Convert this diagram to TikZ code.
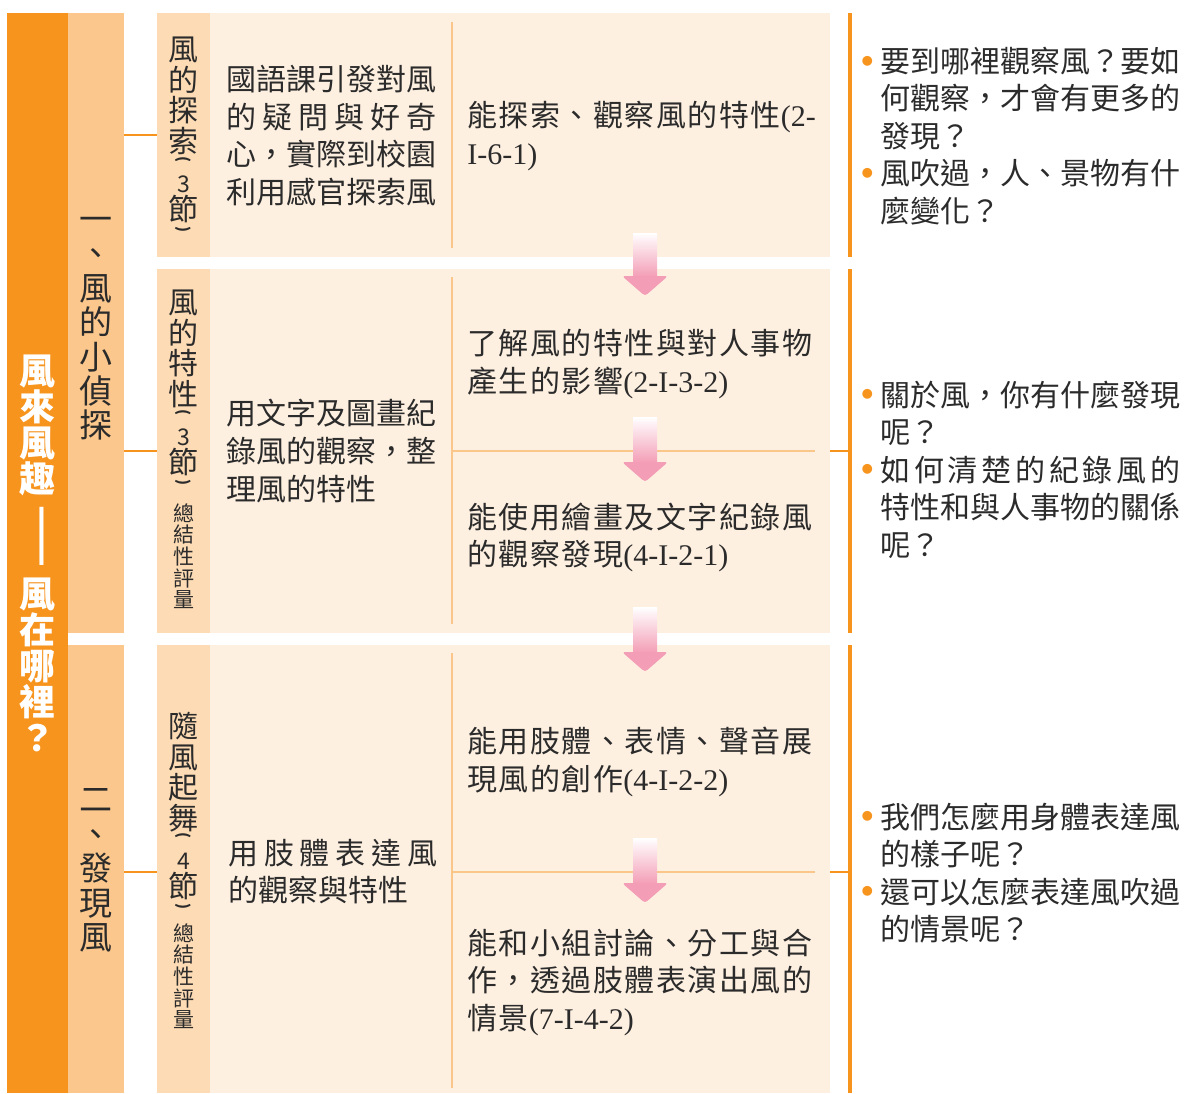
\documentclass[tikz,border=0pt]{standalone}
\usepackage{fontspec}
\setmainfont{Noto Sans CJK TC}
\newfontfamily\codefont{Liberation Serif}
\newfontfamily\widefont{Noto Sans CJK TC}[LetterSpace=5]
\usepackage{graphicx}
\usepackage{tikz}
\usetikzlibrary{positioning}

\definecolor{windorange}{HTML}{F7941D}
\definecolor{unitorange}{HTML}{FBC78C}
\definecolor{labelpeach}{HTML}{FDDBB4}
\definecolor{bodycream}{HTML}{FEF0E1}
\definecolor{lineorange}{HTML}{FBC68A}
\definecolor{arrowpink}{HTML}{F39DB6}
\definecolor{inkgray}{HTML}{2B2B2B}

\newcommand{\std}[1]{{\codefont #1}}
\newcommand{\lessonnum}[1]{{\fontsize{11.5}{11.5}\selectfont #1}}
\newcommand{\openparen}{\smash{\rotatebox[origin=c]{-90}{\fontsize{7.5}{7.5}\selectfont\bfseries (}}}
\newcommand{\closeparen}{\smash{\rotatebox[origin=c]{-90}{\fontsize{7.5}{7.5}\selectfont\bfseries )}}}
\newcommand{\tightlines}{\setlength{\lineskiplimit}{-30pt}}
\newcommand{\bul}{\llap{\raisebox{3.6pt}{\textcolor{windorange}{\fontsize{5.5}{5.5}\selectfont ●}}\hspace{3.75pt}}}

\begin{document}
\begin{tikzpicture}[
    x=0.5pt, y=-0.5pt,
    titlebox/.style={rectangle, fill=windorange, inner sep=0pt, minimum width=30.5pt, text=white, align=center, font=\fontsize{18}{18}\selectfont\bfseries},
    unitbox/.style={rectangle, fill=unitorange, inner sep=0pt, minimum width=28pt, text=inkgray, align=center, font=\fontsize{16.5}{17.2}\selectfont},
    labelbox/.style={rectangle, fill=labelpeach, inner sep=0pt, minimum width=26.5pt},
    bodybox/.style={rectangle, fill=bodycream, inner sep=0pt, minimum width=310pt},
    bar/.style={rectangle, fill=windorange, inner sep=0pt, minimum width=1.9pt},
    labeltext/.style={inner sep=0pt, anchor=north, align=center, text=inkgray, font=\fontsize{15}{15.25}\selectfont\tightlines},
    smalltext/.style={inner sep=0pt, anchor=north, align=center, text=inkgray, font=\fontsize{10.5}{10.85}\selectfont},
    bodytext/.style={inner sep=0pt, anchor=west, align=left, text=inkgray, font=\fontsize{15}{18.85}\selectfont},
    goaltext/.style={bodytext, font=\fontsize{15}{18.85}\selectfont\widefont},
    question/.style={bodytext, font=\fontsize{15}{18.75}\selectfont},
    link/.style={draw=windorange, line width=1pt},
    divider/.style={draw=lineorange, line width=1pt}
]
\useasboundingbox (0,0) rectangle (1186,1093);

% Title column
\node[titlebox, minimum height=540pt] (title) at (37.5,553) {風\\來\\風\\趣\\[4pt]\rotatebox[origin=c]{-90}{——}\\[4pt]風\\在\\哪\\裡\\？};

% Units
\node[unitbox, minimum height=310pt] (unitone) at (96,323) {\vphantom{風}一\\、\\風\\的\\小\\偵\\探};
\node[unitbox, minimum height=224pt] (unittwo) at (96,869) {\vphantom{風}二\\、\\發\\現\\風};

% Lessons
\node[labelbox, minimum height=122pt] (labelone) at (183.5,135) {};
\node[labelbox, minimum height=182pt] (labeltwo) at (183.5,451) {};
\node[labelbox, minimum height=224pt] (labelthree) at (183.5,869) {};
\node[bodybox, minimum height=122pt] (bodyone) at (520,135) {};
\node[bodybox, minimum height=182pt] (bodytwo) at (520,451) {};
\node[bodybox, minimum height=224pt] (bodythree) at (520,869) {};

% Right bars
\node[bar, minimum height=122pt] (barone) at (850,135) {};
\node[bar, minimum height=182pt] (bartwo) at (850,451) {};
\node[bar, minimum height=224pt] (barthree) at (850,869) {};

\coordinate (divthree) at (452,872);

% Connectors
\draw[link] (unitone.east |- labelone.west) -- (labelone.west);
\draw[link] (unitone.east |- labeltwo.west) -- (labeltwo.west);
\draw[link] (unittwo.east |- divthree) -- (labelthree.west |- divthree);
\draw[link] (bodytwo.east) -- (bartwo.west);
\draw[link] (bodythree.east |- divthree) -- (barthree.west |- divthree);

% Dividers inside the lessons
\draw[divider] (452,22) -- (452,248);
\draw[divider] (452,277) -- (452,624);
\draw[divider] (452,653) -- (452,1088);
\draw[divider] (452,451) -- (815,451);
\draw[divider] (divthree) -- (815,872);

% Arrows
\foreach \ystart/\yneck/\ytip in {233/276/296, 417/462/482, 607/652/672, 838/883/903} {
    \shade[top color=white, middle color=arrowpink, bottom color=arrowpink] (633,\ystart) rectangle (657,\yneck+1);
    \fill[arrowpink, rounded corners=1.5pt] (622,\yneck) -- (668,\yneck) -- (645,\ytip) -- cycle;
}

% Lesson labels
\node[labeltext] (labelonetext) at (183.5,37) {風\\的\\探\\索\\[-9.6pt]\openparen\\[-0.9pt]\lessonnum{3}\\[-1.25pt]節\\[-8.35pt]\closeparen};
\node[labeltext] (labeltwotext) at (183.5,290) {風\\的\\特\\性\\[-9.6pt]\openparen\\[-0.9pt]\lessonnum{3}\\[-1.25pt]節\\[-8.35pt]\closeparen};
\node[smalltext] (labeltwonote) at (183.5,503) {總\\結\\性\\評\\量};
\node[labeltext] (labelthreetext) at (183.5,712) {隨\\風\\起\\舞\\[-9.6pt]\openparen\\[-0.9pt]\lessonnum{4}\\[-1.25pt]節\\[-8.35pt]\closeparen};
\node[smalltext] (labelthreenote) at (183.5,923) {總\\結\\性\\評\\量};

% Activities
\node[bodytext] (actone) at (226,135.5) {國語課引發對風\\\makebox[105pt][s]{的\hfill 疑\hfill 問\hfill 與\hfill 好\hfill 奇}\\心，實際到校園\\利用感官探索風};
\node[bodytext] (acttwo) at (226,451) {用文字及圖畫紀\\錄風的觀察，整\\理風的特性};
\node[bodytext] (actthree) at (228,871.5) {\makebox[104.5pt][s]{用\hfill 肢\hfill 體\hfill 表\hfill 達\hfill 風}\\的觀察與特性};

% Goals
\node[goaltext] (goalone) at (467,136) {能探索、觀察風的特性\std{(2-}\\\std{I-6-1)}};
\node[goaltext] (goaltwo) at (467,364) {了解風的特性與對人事物\\產生的影響\std{(2-I-3-2)}};
\node[goaltext] (goalthree) at (467,537.5) {能使用繪畫及文字紀錄風\\的觀察發現\std{(4-I-2-1)}};
\node[goaltext] (goalfour) at (467,762) {能用肢體、表情、聲音展\\現風的創作\std{(4-I-2-2)}};
\node[goaltext] (goalfive) at (467,982.5) {能和小組討論、分工與合\\作，透過肢體表演出風的\\情景\std{(7-I-4-2)}};

% Questions
\node[question] (askone) at (880,136) {\bul 要到哪裡觀察風？要如\\何觀察，才會有更多的\\發現？\\\bul 風吹過，人、景物有什\\麼變化？};
\node[question] (asktwo) at (880,469.5) {\bul 關於風，你有什麼發現\\呢？\\\bul\makebox[150pt][s]{如\hfill 何\hfill 清\hfill 楚\hfill 的\hfill 紀\hfill 錄\hfill 風\hfill 的}\\特性和與人事物的關係\\呢？};
\node[question] (askthree) at (880,873) {\bul 我們怎麼用身體表達風\\的樣子呢？\\\bul 還可以怎麼表達風吹過\\的情景呢？};

\end{tikzpicture}
\end{document}
